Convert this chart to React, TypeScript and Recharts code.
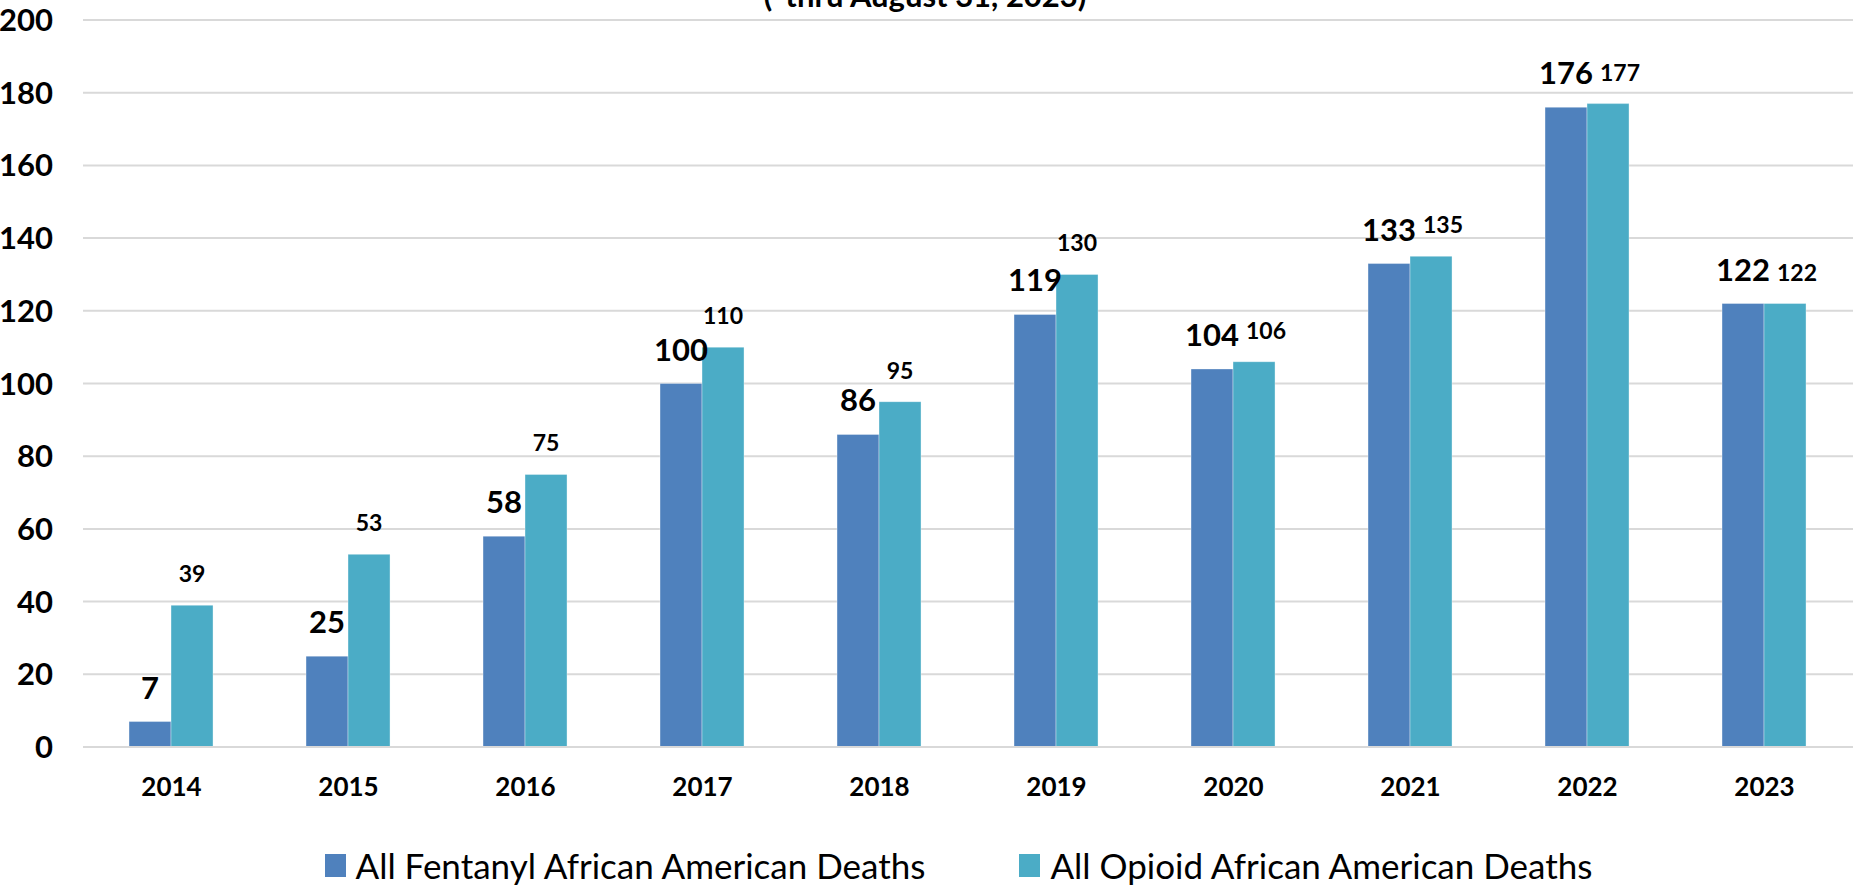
import { BarChart, Bar, XAxis, YAxis, CartesianGrid, Legend, LabelList } from 'recharts';

const years = ['2014', '2015', '2016', '2017', '2018', '2019', '2020', '2021', '2022', '2023'];
const fentanylDeaths = [7, 25, 58, 100, 86, 119, 104, 133, 176, 122];
const opioidDeaths = [39, 53, 75, 110, 95, 130, 106, 135, 177, 122];
const yTicks = [0, 20, 40, 60, 80, 100, 120, 140, 160, 180, 200];
const seriesNames = ['All Fentanyl African American Deaths', 'All Opioid African American Deaths'];
const subtitle = '(*thru August 31, 2023)';

const FENTANYL = '#4F81BD';
const OPIOID = '#4BACC6';
const FONT = 'Lato, "Open Sans", sans-serif';

const data = years.map((year, i) => ({
  year,
  fentanyl: fentanylDeaths[i],
  opioid: opioidDeaths[i],
}));

// fentanyl labels are bigger and sit centered on the bar
function FentanylLabel(props: any) {
  const { x, y, width, value } = props;
  return (
    <text x={x + width / 2} y={y - 23} textAnchor="middle" fontFamily={FONT} fontWeight={700} fontSize={31} fill="#000">
      {value}
    </text>
  );
}

// opioid labels get nudged right when they would collide with the fentanyl label next to them
function OpioidLabel(props: any) {
  const { x, y, width, value, index } = props;
  const other = fentanylDeaths[index];
  const crowded = other !== undefined && Math.abs(other - value) <= 3;
  return (
    <text x={x + width / 2 + (crowded ? 12 : 0)} y={y - 23} textAnchor="middle" fontFamily={FONT} fontWeight={700} fontSize={23} fill="#000">
      {value}
    </text>
  );
}

function LegendContent() {
  const colors = [FENTANYL, OPIOID];
  return (
    <div style={{ height: 40, display: 'flex', alignItems: 'center', justifyContent: 'center', paddingLeft: 64, fontFamily: FONT }}>
      {seriesNames.map((name, i) => (
        <div key={name} style={{ display: 'flex', alignItems: 'center', marginRight: i === 0 ? 94 : 0 }}>
          <span style={{ width: 21, height: 23, background: colors[i], display: 'inline-block', marginRight: 10 }} />
          <span style={{ fontSize: 35, color: '#000', lineHeight: '40px' }}>{name}</span>
        </div>
      ))}
    </div>
  );
}

export default function App() {
  return (
    <div style={{ width: 1854, height: 889, background: '#fff' }}>
      <style>{'body { margin: 0; }'}</style>
      <BarChart
        width={1854}
        height={889}
        data={data}
        margin={{ top: 20, right: 1, left: 0, bottom: 4 }}
        barCategoryGap="26%"
        barGap={0}
      >
        <text x={925} y={7} textAnchor="middle" fontFamily={FONT} fontWeight={700} fontSize={31} fill="#000">
          {subtitle}
        </text>
        <CartesianGrid vertical={false} stroke="#d9d9d9" strokeWidth={2} />
        <XAxis
          dataKey="year"
          axisLine={{ stroke: '#d9d9d9', strokeWidth: 2 }}
          tickLine={false}
          tickSize={0}
          tickMargin={31}
          height={98}
          tick={{ fontFamily: FONT, fontWeight: 700, fontSize: 26, fill: '#000' }}
        />
        <YAxis
          domain={[0, 200]}
          ticks={yTicks}
          width={83}
          axisLine={false}
          tickLine={false}
          tickSize={0}
          tickMargin={30}
          tick={{ fontFamily: FONT, fontWeight: 700, fontSize: 31, fill: '#000' }}
        />
        <Legend verticalAlign="bottom" content={<LegendContent />} />
        <Bar dataKey="fentanyl" name={seriesNames[0]} fill={FENTANYL} stroke="#ffffff" strokeOpacity={0.35} isAnimationActive={false}>
          <LabelList dataKey="fentanyl" content={<FentanylLabel />} />
        </Bar>
        <Bar dataKey="opioid" name={seriesNames[1]} fill={OPIOID} stroke="#ffffff" strokeOpacity={0.35} isAnimationActive={false}>
          <LabelList dataKey="opioid" content={<OpioidLabel />} />
        </Bar>
      </BarChart>
    </div>
  );
}
